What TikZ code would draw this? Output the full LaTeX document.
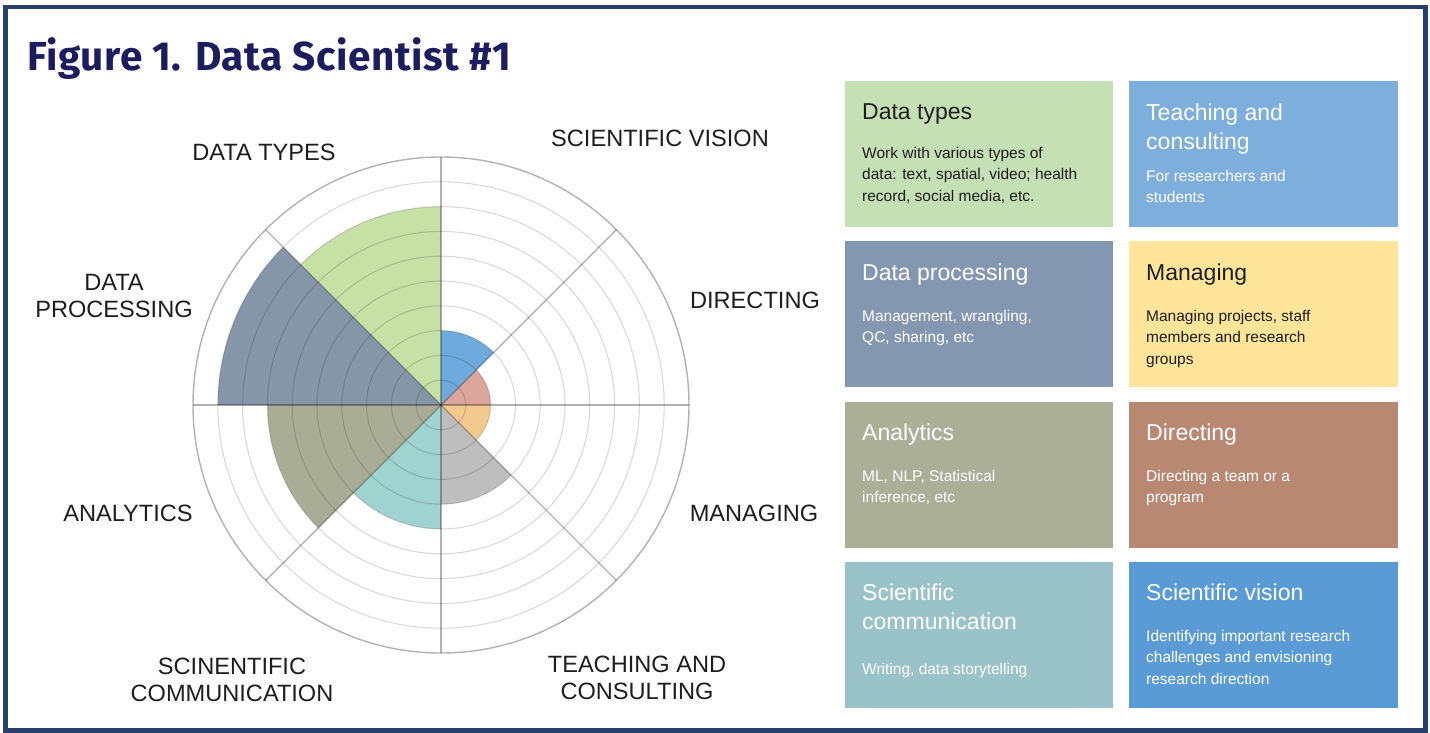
\documentclass[tikz,border=0pt]{standalone}
\usepackage{fontspec}
\setmainfont{Liberation Sans}
\newfontfamily\titlefont{Fira Sans}[LetterSpace=1.4]
\definecolor{framec}{HTML}{263F6B}
\definecolor{titlec}{HTML}{1C1D5E}
\definecolor{labc}{HTML}{1E1E1E}
\definecolor{pgreen}{HTML}{C6E0A5}
\definecolor{pproc}{HTML}{8596A8}
\definecolor{panal}{HTML}{AAAD96}
\definecolor{pcomm}{HTML}{9FD3CF}
\definecolor{pteach}{HTML}{BEBEBE}
\definecolor{pmanage}{HTML}{F3C98F}
\definecolor{pdirect}{HTML}{DCA69C}
\definecolor{pvision}{HTML}{6EAADB}
\definecolor{bgreen}{HTML}{C5E0B4}
\definecolor{bteach}{HTML}{7DAEDC}
\definecolor{bproc}{HTML}{8497B0}
\definecolor{bmanage}{HTML}{FFE599}
\definecolor{banal}{HTML}{ABAF98}
\definecolor{bdirect}{HTML}{B98873}
\definecolor{bcomm}{HTML}{9AC3C9}
\definecolor{bvision}{HTML}{5B9BD5}
\tikzset{
  axislab/.style={inner sep=0pt, text=labc, align=center, font=\fontsize{23.6}{27}\selectfont},
  card/.style={anchor=north west, inner sep=0pt, minimum width=268pt, minimum height=146pt, draw=none},
  cardtitle/.style={anchor=north west, inner sep=0pt, align=left, font=\fontsize{23}{29}\selectfont},
  carddesc/.style={anchor=north west, inner sep=0pt, align=left, font=\fontsize{15.5}{21.4}\selectfont},
  ring/.style={draw=black, draw opacity=0.15, line width=1.1pt},
  spoke/.style={draw=black, draw opacity=0.3, line width=1.4pt},
}
\begin{document}
\begin{tikzpicture}[x=1pt,y=1pt]
\useasboundingbox (0,0) rectangle (1430,-732);
\fill[white] (0,0) rectangle (1430,-732);
\draw[framec, line width=4.5pt] (5.5,-7) rectangle (1425.5,-730.5);

\node[anchor=base west, inner sep=0pt, text=titlec, font=\titlefont\bfseries\fontsize{40.5}{48}\selectfont] (title) at (27,-70) {Figure 1. Data Scientist \#1};

% polar chart
\begin{scope}[shift={(441,-405)}]
  \def\R{24.8}
  \fill[pvision] (0,0) -- (45:3*\R) arc[start angle=45, end angle=90, radius=3*\R] -- cycle;
  \fill[pgreen] (0,0) -- (90:8*\R) arc[start angle=90, end angle=135, radius=8*\R] -- cycle;
  \fill[pproc] (0,0) -- (135:9*\R) arc[start angle=135, end angle=180, radius=9*\R] -- cycle;
  \fill[panal] (0,0) -- (180:7*\R) arc[start angle=180, end angle=225, radius=7*\R] -- cycle;
  \fill[pcomm] (0,0) -- (225:5*\R) arc[start angle=225, end angle=270, radius=5*\R] -- cycle;
  \fill[pteach] (0,0) -- (270:4*\R) arc[start angle=270, end angle=315, radius=4*\R] -- cycle;
  \fill[pmanage] (0,0) -- (315:2*\R) arc[start angle=315, end angle=360, radius=2*\R] -- cycle;
  \fill[pdirect] (0,0) -- (0:2*\R) arc[start angle=0, end angle=45, radius=2*\R] -- cycle;
  \foreach \i in {1,...,9} \draw[ring] (0,0) circle[radius=\i*\R];
  \draw[spoke] (0,0) circle[radius=10*\R];
  \foreach \a in {0,45,...,315} \draw[spoke] (0,0) -- (\a:10*\R);
\end{scope}

% axis labels
\node[axislab, anchor=base] (lDT) at (264,-160) {DATA TYPES};
\node[axislab, anchor=base] (lSV) at (660,-146) {SCIENTIFIC VISION};
\node[axislab] (lDP) at (114,-295.5) {DATA\\PROCESSING};
\node[axislab, anchor=base] (lDI) at (755,-308) {DIRECTING};
\node[axislab, anchor=base] (lAN) at (128,-521) {ANALYTICS};
\node[axislab, anchor=base] (lMA) at (754,-521) {MANAGING};
\node[axislab] (lSC) at (232,-679.5) {SCINENTIFIC\\COMMUNICATION};
\node[axislab] (lTC) at (637,-677.5) {TEACHING AND\\CONSULTING};

% cards
\node[card, fill=bgreen] (c1) at (845,-81) {};
\node[card, fill=bteach, minimum width=269pt] (c2) at (1129,-81) {};
\node[card, fill=bproc] (c3) at (845,-241) {};
\node[card, fill=bmanage, minimum width=269pt] (c4) at (1129,-241) {};
\node[card, fill=banal] (c5) at (845,-402) {};
\node[card, fill=bdirect, minimum width=269pt] (c6) at (1129,-402) {};
\node[card, fill=bcomm] (c7) at (845,-562) {};
\node[card, fill=bvision, minimum width=269pt] (c8) at (1129,-562) {};

\node[cardtitle, text=labc] (c1t) at (862,-103.4) {Data types};
\node[carddesc, text=labc] (c1d) at (862,-146.8) {Work with various types of\\data: text, spatial, video; health\\record, social media, etc.};

\node[cardtitle, text=white] (c2t) at (1146,-103.4) {Teaching and\\consulting};
\node[carddesc, text=white] (c2d) at (1146,-169.8) {For researchers and\\students};

\node[cardtitle, text=white] (c3t) at (862,-263.4) {Data processing};
\node[carddesc, text=white] (c3d) at (862,-309.8) {Management, wrangling,\\QC, sharing, etc};

\node[cardtitle, text=labc] (c4t) at (1146,-263.4) {Managing};
\node[carddesc, text=labc] (c4d) at (1146,-309.8) {Managing projects, staff\\members and research\\groups};

\node[cardtitle, text=white] (c5t) at (862,-423.4) {Analytics};
\node[carddesc, text=white] (c5d) at (862,-469.8) {ML, NLP, Statistical\\inference, etc};

\node[cardtitle, text=white] (c6t) at (1146,-423.4) {Directing};
\node[carddesc, text=white] (c6d) at (1146,-469.8) {Directing a team or a\\program};

\node[cardtitle, text=white] (c7t) at (862,-583.4) {Scientific\\communication};
\node[carddesc, text=white] (c7d) at (862,-662.8) {Writing, data storytelling};

\node[cardtitle, text=white] (c8t) at (1146,-583.4) {Scientific vision};
\node[carddesc, text=white] (c8d) at (1146,-629.8) {Identifying important research\\challenges and envisioning\\research direction};
\end{tikzpicture}
\end{document}
